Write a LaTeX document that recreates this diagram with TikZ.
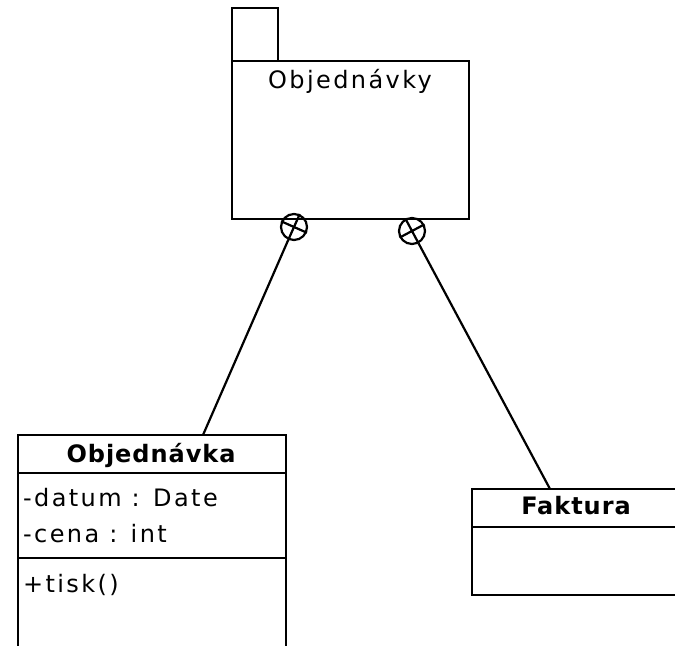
\documentclass[tikz,border=0pt]{standalone}
\usepackage{fontspec}
\setmainfont{DejaVu Sans}[LetterSpace=10]
\usetikzlibrary{calc}
\begin{document}
\begin{tikzpicture}
            [x=0.5pt,y=-0.5pt,line width=1.1pt,
             every node/.style={font=\fontsize{12}{14}\selectfont},
             Box/.style={rectangle,draw=black,inner sep=0pt,outer sep=0pt,anchor=north west},
             Name/.style={font=\fontsize{12}{14}\selectfont\bfseries\addfontfeature{LetterSpace=4},inner sep=0pt,anchor=base},
             Item/.style={inner sep=0pt,anchor=base west},
             Socket/.style={circle,draw=black,minimum size=13pt,inner sep=0pt}];
            \useasboundingbox (0,0) rectangle (675,646);
            \clip (0,0) rectangle (675,646);
            % package
            \node[Box,minimum width=23pt,minimum height=26.5pt] (tab) at (232,8){};
            \node[Box,minimum width=118.5pt,minimum height=79pt] (pkg) at (tab.south west){};
            \node[inner sep=0pt,anchor=base] (pkgname) at (350,89){Objednávky};
            % class Objednavka
            \node[Box,minimum width=134pt,minimum height=19pt] (objhead) at (18,435){};
            \node[Box,minimum width=134pt,minimum height=42.5pt] (objattr) at (objhead.south west){};
            \node[Box,minimum width=134pt,minimum height=50pt] (objops) at (objattr.south west){};
            \node[Name] (objname) at (151,463){Objednávka};
            \node[Item] (datum) at (22,507){-datum : Date};
            \node[Item] (cena) at (22,543){-cena : int};
            \node[Item] (tisk) at (22,592){+tisk()};
            % class Faktura
            \node[Box,minimum width=120pt,minimum height=19pt] (fakhead) at (472,489){};
            \node[Box,minimum width=120pt,minimum height=34pt] (fakbody) at (fakhead.south west){};
            \node[Name] (fakname) at (576,515){Faktura};
            % nesting
            \node[Socket] (nest1) at (294,227){};
            \node[Socket] (nest2) at (412,231){};
            \draw (nest1.246) -- (nest1.66) (nest1.156) -- (nest1.336);
            \draw (nest2.298) -- (nest2.118) (nest2.28) -- (nest2.208);
            \draw [-](nest1.246) to ($(objhead.north west)+(185,0)$);
            \draw [-](nest2.298) to ($(fakhead.north west)+(78,0)$);
        \end{tikzpicture}
\end{document}
